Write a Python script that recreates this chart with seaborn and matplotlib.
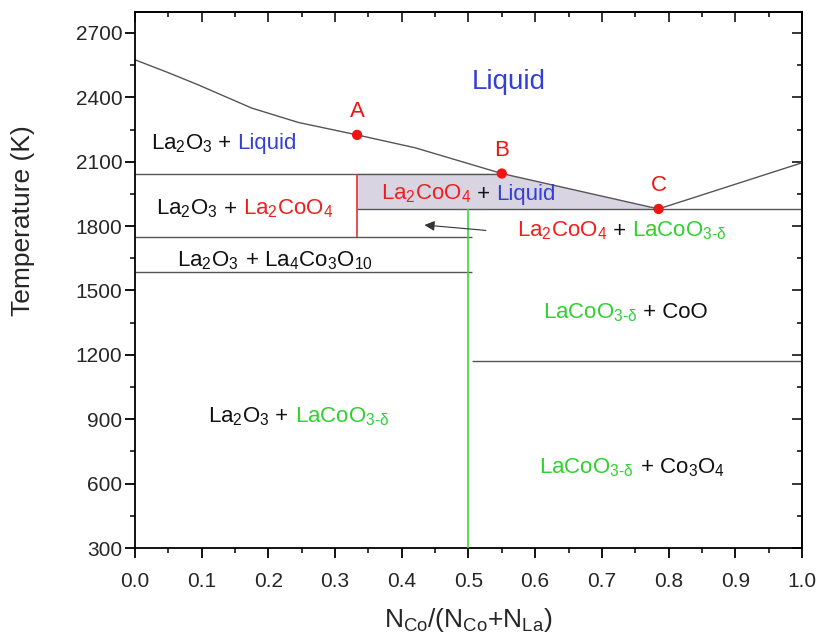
import matplotlib
matplotlib.use("Agg")
import matplotlib.pyplot as plt
import seaborn as sns
from matplotlib.offsetbox import TextArea, HPacker, AnnotationBbox
from matplotlib.ticker import MultipleLocator

# liquidus line (composition, temperature K)
liq_x = [0.0, 0.05, 0.095, 0.175, 0.245, 0.333, 0.42, 0.55, 0.785, 1.0]
liq_t = [2575, 2515, 2458, 2350, 2283, 2225, 2165, 2045, 1880, 2095]

# invariant points A, B, C
pt_names = ["A", "B", "C"]
pt_x = [0.333, 0.55, 0.785]
pt_t = [2225, 2045, 1880]

# horizontal phase boundaries: temperature, x start, x end
hl_t = [2045, 1880, 1750, 1585, 1170]
hl_x0 = [0.0, 0.333, 0.0, 0.0, 0.505]
hl_x1 = [0.55, 1.0, 0.505, 0.505, 1.0]

# vertical compound lines: La2CoO4 and LaCoO3-d
la2coo4_x, la2coo4_t = 0.333, (1750, 2045)
lacoo3_x, lacoo3_t = 0.5, (300, 1880)

# shaded La2CoO4 + Liquid field
shade_x = [0.333, 0.55, 0.785, 0.333]
shade_t = [2045, 2045, 1880, 1880]

BLK, RED, GRN, BLU = "#111111", "#f01e1e", "#2fd12f", "#3340d8"

LA2O3 = "La$_2$O$_3$"
LA2COO4 = "La$_2$CoO$_4$"
LACOO3 = r"LaCoO$_{\text{3-δ}}$"

field_labels = [
    [(LA2O3, BLK), (" + ", BLK), ("Liquid", BLU)],
    [(LA2O3, BLK), (" + ", BLK), (LA2COO4, RED)],
    [(LA2COO4, RED), (" + ", BLK), ("Liquid", BLU)],
    [(LA2COO4, RED), (" + ", BLK), (LACOO3, GRN)],
    [(LA2O3, BLK), (" + La$_4$Co$_3$O$_{10}$", BLK)],
    [(LACOO3, GRN), (" + CoO", BLK)],
    [(LA2O3, BLK), (" + ", BLK), (LACOO3, GRN)],
    [(LACOO3, GRN), (" + Co$_3$O$_4$", BLK)],
]
field_xy = [(0.133, 2185), (0.165, 1880), (0.50, 1950), (0.73, 1778),
            (0.21, 1638), (0.735, 1398), (0.245, 912), (0.745, 675)]

sns.set_style("ticks")
plt.rcParams["font.family"] = ["Liberation Sans", "DejaVu Sans"]
plt.rcParams["mathtext.fontset"] = "custom"
plt.rcParams["mathtext.rm"] = "Liberation Sans"
plt.rcParams["mathtext.it"] = "Liberation Sans:italic"
plt.rcParams["mathtext.bf"] = "Liberation Sans:bold"

fig = plt.figure(figsize=(8.2, 6.39), dpi=100)
ax = fig.add_axes([0.1646, 0.1424, 0.8134, 0.8396])

line_col = "#555555"
ax.fill(shade_x, shade_t, color="#d9d4e2", lw=0, zorder=1)
sns.lineplot(x=liq_x, y=liq_t, sort=False, estimator=None, color=line_col,
             lw=1.0, ax=ax, zorder=2)
ax.hlines(hl_t, hl_x0, hl_x1, color=line_col, lw=1.0, zorder=2)
ax.vlines(la2coo4_x, *la2coo4_t, color="#e83030", lw=1.2, zorder=3)
ax.vlines(lacoo3_x, *lacoo3_t, color="#3ad83a", lw=1.2, zorder=3)
sns.scatterplot(x=pt_x, y=pt_t, color="#f01414", s=55, edgecolor="none",
                ax=ax, zorder=5)
for name, x, t in zip(pt_names, pt_x, pt_t):
    ax.annotate(name, (x, t), xytext=(0, 9), textcoords="offset points",
                ha="center", va="bottom", color="#f01414", fontsize=16)

ax.annotate("", xy=(0.434, 1805), xytext=(0.526, 1780),
            arrowprops=dict(arrowstyle="-|>", color="#333333", lw=0.8,
                            mutation_scale=15, shrinkA=0, shrinkB=0))


def put_label(parts, xy, size=16):
    boxes = [TextArea(s, textprops=dict(color=c, fontsize=size)) for s, c in parts]
    pack = HPacker(children=boxes, align="baseline", pad=0, sep=0)
    ab = AnnotationBbox(pack, xy, xycoords="data", frameon=False,
                        box_alignment=(0.5, 0.5), pad=0, zorder=6)
    ax.add_artist(ab)


for parts, xy in zip(field_labels, field_xy):
    put_label(parts, xy)
ax.text(0.56, 2470, "Liquid", color=BLU, fontsize=20, ha="center", va="center")

ax.set_xlim(0, 1)
ax.set_ylim(300, 2800)
ax.xaxis.set_major_locator(MultipleLocator(0.1))
ax.xaxis.set_minor_locator(MultipleLocator(0.05))
ax.yaxis.set_major_locator(MultipleLocator(300))
ax.yaxis.set_minor_locator(MultipleLocator(150))
ax.set_yticks(range(300, 2701, 300))
ax.xaxis.set_major_formatter(matplotlib.ticker.FormatStrFormatter("%.1f"))
ax.tick_params(which="major", direction="out", length=7, width=1.3,
               labelsize=15, color="black")
ax.tick_params(axis="x", which="major", pad=10)
ax.tick_params(axis="y", which="major", pad=2)
ax.tick_params(which="minor", direction="out", length=3.5, width=1.3)
for sp in ax.spines.values():
    sp.set_visible(True)
    sp.set_linewidth(1.3)
    sp.set_color("black")

# mirrored inward ticks on top and right
top = ax.secondary_xaxis("top")
top.xaxis.set_major_locator(MultipleLocator(0.1))
top.xaxis.set_minor_locator(MultipleLocator(0.05))
top.tick_params(which="both", direction="in", labeltop=False, width=1.3)
top.tick_params(which="major", length=7)
top.tick_params(which="minor", length=3.5)
right = ax.secondary_yaxis("right")
right.yaxis.set_major_locator(MultipleLocator(300))
right.yaxis.set_minor_locator(MultipleLocator(150))
right.tick_params(which="both", direction="in", labelright=False, width=1.3)
right.tick_params(which="major", length=7)
right.tick_params(which="minor", length=3.5)
for sec in (top, right):
    for sp in sec.spines.values():
        sp.set_linewidth(1.3)

ax.set_xlabel(r"N$_{\mathrm{Co}}$/(N$_{\mathrm{Co}}$+N$_{\mathrm{La}}$)",
              fontsize=19, labelpad=11)
ax.set_ylabel("Temperature (K)", fontsize=19)
ax.yaxis.set_label_coords(-0.15, 0.61)

fig.savefig("out.png", dpi=100)
